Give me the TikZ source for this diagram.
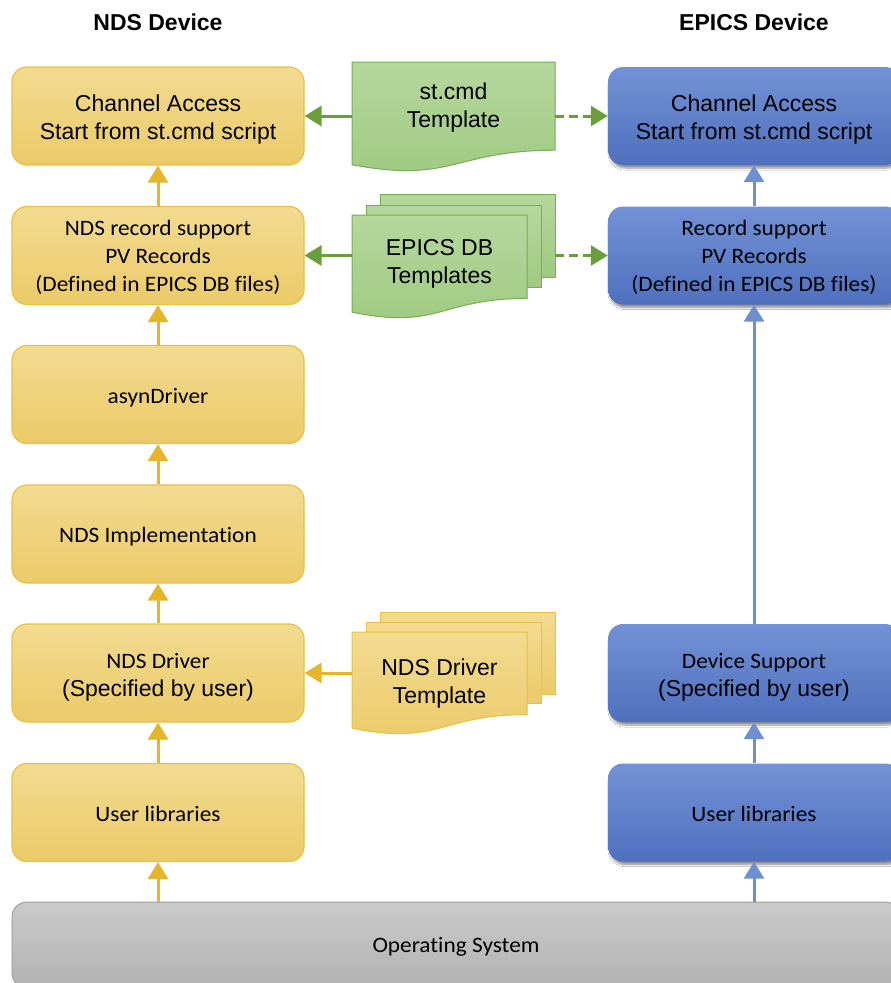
\documentclass[tikz,border=0pt]{standalone}
\usepackage{fontspec}
\setmainfont{Liberation Sans}
\newfontfamily\calfont[FakeStretch=1.06,Ligatures=NoCommon]{Carlito}
\usetikzlibrary{arrows.meta,shadows.blur}
\definecolor{ytop}{RGB}{242,219,145}
\definecolor{ybot}{RGB}{235,202,104}
\definecolor{yline}{RGB}{232,193,66}
\definecolor{yarr}{RGB}{229,181,42}
\definecolor{gtop}{RGB}{181,215,157}
\definecolor{gbot}{RGB}{158,202,128}
\definecolor{gline}{RGB}{117,175,78}
\definecolor{garr}{RGB}{106,158,58}
\definecolor{btop}{RGB}{114,145,214}
\definecolor{bbot}{RGB}{79,112,190}
\definecolor{barr}{RGB}{110,143,208}
\definecolor{stop}{RGB}{202,202,202}
\definecolor{sbot}{RGB}{178,178,178}
\definecolor{sline}{RGB}{160,160,160}
\newcommand\docpath[4]{(#1,#2) -- (#3,#2) -- (#3,{#2+0.802*#4}) .. controls ({(#1+#3)/2},{#2+0.802*#4}) and ({(#1+#3)/2},{#2+1.107*#4}) .. (#1,{#2+0.934*#4}) -- cycle}
\newcommand\calline[1]{{\calfont\fontsize{22}{28}\selectfont #1}}
\newcommand\pad[1]{\rule{0pt}{#1pt}}
\begin{document}
\begin{tikzpicture}[x=1pt,y=-1pt,
  arial/.style={font=\fontsize{23}{28}\selectfont},
  cal/.style={font=\calfont\fontsize{22}{28}\selectfont},
  ybox/.style={draw=yline,line width=1.2pt,rounded corners=15pt,top color=ytop,bottom color=ybot,
    minimum width=292pt,minimum height=98pt,align=center,inner sep=0pt},
  bbox/.style={draw=none,rounded corners=15pt,top color=btop,bottom color=bbot,
    minimum width=292pt,minimum height=98pt,align=center,inner sep=0pt,
    blur shadow={shadow xshift=2pt,shadow yshift=-3pt,shadow blur steps=6,shadow opacity=45}},
  sbox/.style={draw=sline,line width=1pt,rounded corners=15pt,top color=stop,bottom color=sbot,
    minimum width=888pt,minimum height=86pt,align=center,inner sep=0pt},
  gdoc/.style={draw=gline,line width=1pt,top color=gtop,bottom color=gbot},
  ydoc/.style={draw=yline,line width=1pt,top color=ytop,bottom color=ybot},
  yarrow/.style={draw=yarr,line width=3pt,-{Triangle[width=20pt,length=17pt]}},
  barrow/.style={draw=barr,line width=3pt,-{Triangle[width=20pt,length=17pt]}},
  garrow/.style={draw=garr,line width=3pt,-{Triangle[width=20pt,length=17pt]}},
  gdash/.style={garrow,dash pattern=on 9pt off 5pt},
  title/.style={font=\bfseries\fontsize{23}{28}\selectfont}]
\useasboundingbox (0,0) rectangle (891,983);
\fill[white] (0,0) rectangle (891,983);
\begin{scope}
\clip (0,0) rectangle (891,983);
% titles
\node[title] (t1) at (158,22) {NDS Device};
\node[title] (t2) at (754,22) {EPICS Device};
% left column
\node[ybox,arial] (ca) at (158,116) {\pad{24}Channel Access\\Start from st.cmd script};
\node[ybox,cal] (nrs) at (158,255.5) {\pad{20}NDS record support\\PV Records\\(Defined in EPICS DB files)};
\node[ybox,cal] (asyn) at (158,394.5) {\pad{21}asynDriver};
\node[ybox,cal] (impl) at (158,534) {\pad{21}NDS Implementation};
\node[ybox,arial] (drv) at (158,673) {\pad{23}\calline{NDS Driver}\\(Specified by user)};
\node[ybox,cal] (ulib) at (158,812.5) {\pad{18}User libraries};
% right column
\node[bbox,arial] (rca) at (754,116) {\pad{24}Channel Access\\Start from st.cmd script};
\node[bbox,cal] (rrs) at (754,255.5) {\pad{20}Record support\\PV Records\\(Defined in EPICS DB files)};
\node[bbox,arial] (dev) at (754,673) {\pad{23}\calline{Device Support}\\(Specified by user)};
\node[bbox,cal] (rulib) at (754,812.5) {\pad{18}User libraries};
% OS
\node[sbox,cal] (os) at (456,945) {\pad{19}Operating System};
% templates
\path[gdoc] \docpath{352}{62}{555}{110};
\node[arial,align=center] (st) at (453.5,108) {st.cmd\\Template};
\path[gdoc] (380,194) rectangle (555,277);
\path[gdoc] (366,205) rectangle (541,287);
\path[gdoc] \docpath{352}{215}{527}{104};
\node[arial,align=center] (db) at (439.5,264) {EPICS DB\\Templates};
\path[ydoc] (380,612) rectangle (555,694);
\path[ydoc] (366,622) rectangle (541,703);
\path[ydoc] \docpath{352}{632}{527}{103};
\node[arial,align=center] (ndt) at (439.5,684) {NDS Driver\\Template};
\coordinate (stL) at (352,116);
\coordinate (stR) at (555,116);
\coordinate (dbL) at (352,255.5);
\coordinate (dbR) at (555,255.5);
\coordinate (ndL) at (352,673);
% arrows left
\draw[yarrow] (nrs.north) -- (ca.south);
\draw[yarrow] (asyn.north) -- (nrs.south);
\draw[yarrow] (impl.north) -- (asyn.south);
\draw[yarrow] (drv.north) -- (impl.south);
\draw[yarrow] (ulib.north) -- (drv.south);
\draw[yarrow] (os.north -| ulib.south) -- (ulib.south);
% arrows right
\draw[barrow] (rrs.north) -- (rca.south);
\draw[barrow] (dev.north) -- (rrs.south);
\draw[barrow] (rulib.north) -- (dev.south);
\draw[barrow] (os.north -| rulib.south) -- (rulib.south);
% template arrows
\draw[garrow] (stL) -- (ca.east);
\draw[gdash] (stR) -- (rca.west);
\draw[garrow] (dbL) -- (nrs.east);
\draw[gdash] (dbR) -- (rrs.west);
\draw[yarrow] (ndL) -- (drv.east);
\end{scope}
\end{tikzpicture}
\end{document}
